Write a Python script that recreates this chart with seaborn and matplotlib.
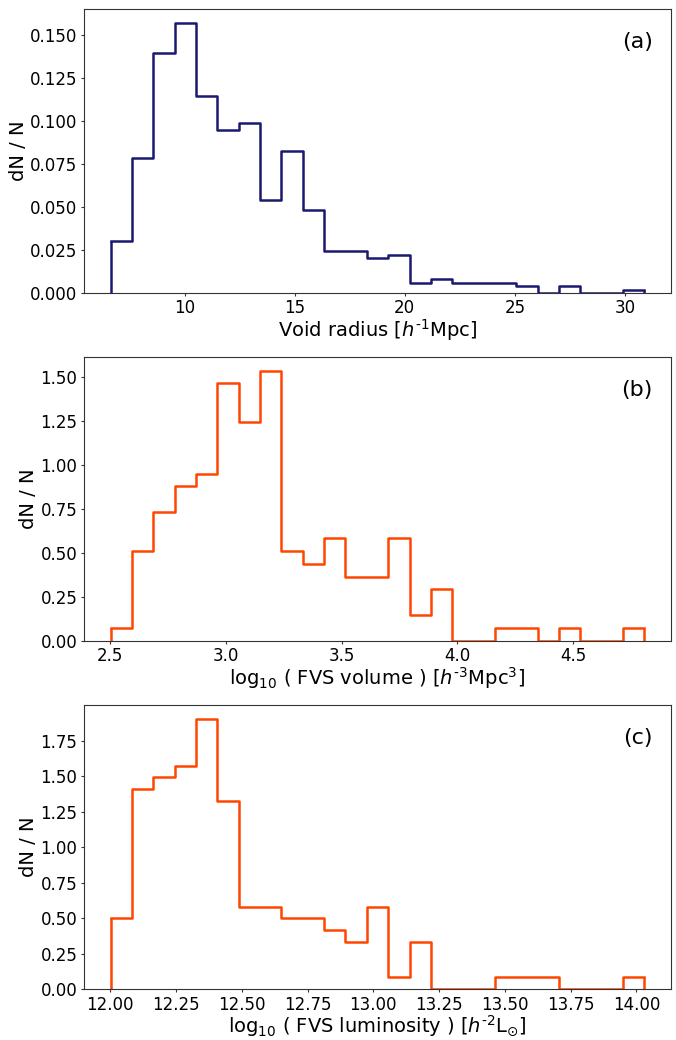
import numpy as np
import pandas as pd
import matplotlib
matplotlib.use("Agg")
import matplotlib.pyplot as plt
import matplotlib.ticker as mticker
import seaborn as sns

# Panel (a): void radius histogram
radius_edges_range = (6.64, 30.88)
radius_dens = [0.030, 0.0786, 0.1392, 0.1571, 0.1147, 0.0944, 0.0986, 0.0542,
               0.0826, 0.0483, 0.0241, 0.0241, 0.0201, 0.0220, 0.0058, 0.0079,
               0.0058, 0.0058, 0.0058, 0.0041, 0.0, 0.0041, 0.0, 0.0, 0.0020]

# Panel (b): log10 FVS volume
volume_edges_range = (2.503, 4.808)
volume_dens = [0.0736, 0.511, 0.732, 0.879, 0.951, 1.464, 1.245, 1.536,
               0.511, 0.438, 0.585, 0.364, 0.364, 0.585, 0.145, 0.294,
               0.0, 0.0, 0.0736, 0.0736, 0.0, 0.0736, 0.0, 0.0, 0.0736]

# Panel (c): log10 FVS luminosity
lum_edges_range = (12.0015, 14.03)
lum_dens = [0.50, 1.409, 1.493, 1.575, 1.907, 1.325, 0.582, 0.582,
            0.50, 0.50, 0.416, 0.332, 0.582, 0.082, 0.332, 0.0,
            0.0, 0.0, 0.082, 0.082, 0.082, 0.0, 0.0, 0.0, 0.082]

xlabels = [r"Void radius [$h^{\text{-1}}$Mpc]",
           r"log$_{10}$ ( FVS volume ) [$h^{\text{-3}}$Mpc$^{3}$]",
           r"log$_{10}$ ( FVS luminosity ) [$h^{\text{-2}}$L$_{\odot}$]"]
panel_tags = ["(a)", "(b)", "(c)"]
colors = ["#191970", "#FF4500", "#FF4500"]

yticks_list = [[0.0, 0.025, 0.05, 0.075, 0.1, 0.125, 0.15],
               [0.0, 0.25, 0.5, 0.75, 1.0, 1.25, 1.5],
               [0.0, 0.25, 0.5, 0.75, 1.0, 1.25, 1.5, 1.75]]
xticks_list = [[10, 15, 20, 25, 30],
               [2.5, 3.0, 3.5, 4.0, 4.5],
               [12.0, 12.25, 12.5, 12.75, 13.0, 13.25, 13.5, 13.75, 14.0]]
yfmt = ["%.3f", "%.2f", "%.2f"]
xfmt = [None, "%.1f", "%.2f"]

fig = plt.figure(figsize=(6.76, 10.4), dpi=100)
positions = [(0.1243, 0.7183, 0.8683, 0.2730),
             (0.1243, 0.3837, 0.8683, 0.2730),
             (0.1243, 0.0490, 0.8683, 0.2730)]

datasets = [(radius_edges_range, radius_dens),
            (volume_edges_range, volume_dens),
            (lum_edges_range, lum_dens)]

LW = 1.8
for i, ((rng, dens), pos) in enumerate(zip(datasets, positions)):
    ax = fig.add_axes(pos)
    nb = len(dens)
    edges = np.linspace(rng[0], rng[1], nb + 1)
    centers = 0.5 * (edges[:-1] + edges[1:])
    df = pd.DataFrame({"x": centers, "w": dens})
    sns.histplot(data=df, x="x", weights="w", bins=nb, binrange=rng,
                 stat="count", element="step", fill=False, color=colors[i],
                 linewidth=LW, ax=ax)
    # close the outline at both ends like a step histogram
    ax.vlines([edges[0], edges[-1]], 0, [dens[0], dens[-1]],
              colors=colors[i], linewidth=LW)
    span = rng[1] - rng[0]
    ax.set_xlim(rng[0] - 0.05 * span, rng[1] + 0.05 * span)
    ax.set_ylim(0, max(dens) * 1.05)
    ax.set_yticks(yticks_list[i])
    ax.set_xticks(xticks_list[i])
    ax.yaxis.set_major_formatter(mticker.FormatStrFormatter(yfmt[i]))
    if xfmt[i]:
        ax.xaxis.set_major_formatter(mticker.FormatStrFormatter(xfmt[i]))
    ax.set_xlabel(xlabels[i], fontsize=14, labelpad=0)
    ax.set_ylabel("dN / N", fontsize=14, labelpad=1.5)
    ax.tick_params(labelsize=12, pad=2.2, length=2.5, color="#333333")
    ax.text(0.969, 0.885, panel_tags[i], transform=ax.transAxes,
            ha="right", va="center", fontsize=16)
    for sp in ax.spines.values():
        sp.set_color("#333333")

fig.savefig("out.png", dpi=100)
